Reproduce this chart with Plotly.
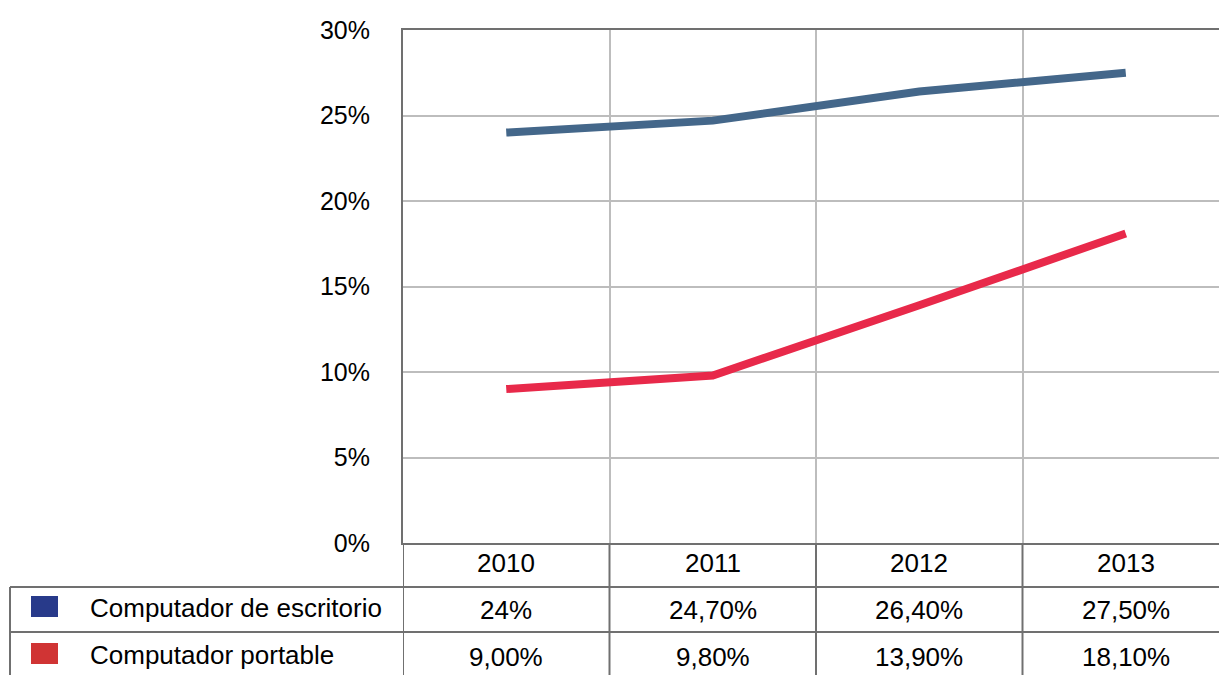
import plotly.graph_objects as go

# Share of households with computers, by type
years = [2010, 2011, 2012, 2013]
series_names = ["Computador de escritorio", "Computador portable"]
escritorio = [24.0, 24.7, 26.4, 27.5]
portable = [9.0, 9.8, 13.9, 18.1]
escritorio_labels = ["24%", "24,70%", "26,40%", "27,50%"]
portable_labels = ["9,00%", "9,80%", "13,90%", "18,10%"]

line_colors = ["#44678a", "#e8294a"]
key_colors = ["#283a8a", "#d03434"]
dark = "#707070"
light = "#bdbdbd"
font = "Arial, Liberation Sans, sans-serif"

W, H = 1219, 675
top, bottom, left = 30, 543, 403
plot_h = bottom - top
plot_w = W - left
col_w = 206.5

def py(p):
    # pixel row -> paper y
    return (bottom - p) / plot_h

def px(p):
    # pixel column -> paper x
    return (p - left) / plot_w

fig = go.Figure()
for name, vals, col in zip(series_names, [escritorio, portable], line_colors):
    fig.add_trace(go.Scatter(x=years, y=vals, mode="lines", name=name,
                             line=dict(color=col, width=8)))

shapes = []
annotations = []
cell_font = dict(size=26, color="black", family=font)

# table grid: horizontal rules
for row_y in [587, 632]:
    shapes.append(dict(type="line", xref="paper", yref="paper",
                       x0=px(10), x1=1, y0=py(row_y), y1=py(row_y),
                       line=dict(color=dark, width=2)))
# left border of table
shapes.append(dict(type="line", xref="paper", yref="paper",
                   x0=px(10), x1=px(10), y0=py(587), y1=py(H + 5),
                   line=dict(color=dark, width=2)))
# column separators below the axis
for xb in [years[0] - 0.5] + [y + 0.5 for y in years[:-1]]:
    shapes.append(dict(type="line", xref="x", yref="paper",
                       x0=xb, x1=xb, y0=0, y1=py(H + 5),
                       line=dict(color=dark, width=2)))

# year header row and value rows
for labels, ry in [([str(y) for y in years], 563), (escritorio_labels, 610), (portable_labels, 657)]:
    for yr, lab in zip(years, labels):
        annotations.append(dict(x=yr, y=py(ry), xref="x", yref="paper", text=lab,
                                xanchor="center", yanchor="middle",
                                showarrow=False, font=cell_font))

# row headers with colour keys
for name, col, ry in zip(series_names, key_colors, [607, 654]):
    shapes.append(dict(type="rect", xref="paper", yref="paper",
                       x0=px(31), x1=px(58), y0=py(ry - 11), y1=py(ry + 10),
                       fillcolor=col, line=dict(width=0)))
    annotations.append(dict(x=px(88), y=py(ry + 1), xref="paper", yref="paper", text=name,
                            xanchor="left", yanchor="middle", showarrow=False,
                            font=cell_font))

fig.update_layout(
    width=W, height=H,
    margin=dict(l=left, r=0, t=top, b=H - bottom),
    paper_bgcolor="white", plot_bgcolor="white",
    showlegend=False,
    shapes=shapes, annotations=annotations,
    font=dict(family=font, size=25, color="black"),
)
fig.update_xaxes(range=[years[0] - 0.5, years[-1] + 0.5 - (left + 4 * col_w - W) / col_w],
                 tickvals=[y + 0.5 for y in years[:-1]], showticklabels=False,
                 showgrid=True, gridcolor=light, gridwidth=2,
                 showline=True, mirror=True, linecolor=dark, linewidth=2,
                 zeroline=False, fixedrange=True)
fig.update_yaxes(range=[0, 30], dtick=5, ticksuffix="%",
                 showgrid=True, gridcolor=light, gridwidth=2,
                 showline=True, linecolor=dark, linewidth=2,
                 ticks="", ticklabelstandoff=26, zeroline=False,
                 tickfont=dict(size=25, color="black", family=font))

# drop the default page margin so the figure sits at the window corner
fig.write_html("out.html", config={"displayModeBar": False},
               post_script="document.body.style.margin='0px';")
